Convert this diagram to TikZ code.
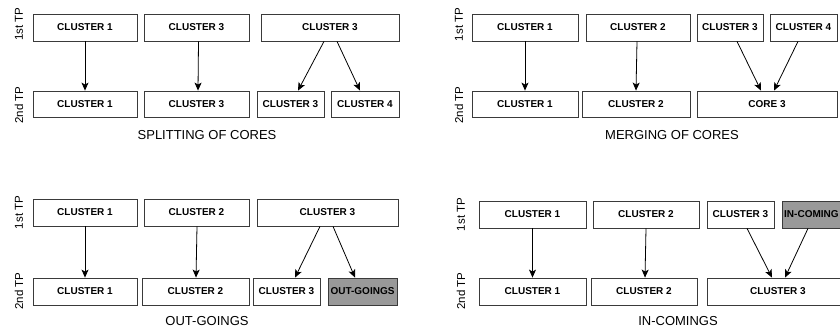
\documentclass[tikz,border=0pt]{standalone}
\usepackage{fontspec}
\setmainfont{Liberation Sans}
\usetikzlibrary{arrows.meta}
\definecolor{boxgray}{HTML}{999999}
\definecolor{edgegray}{HTML}{3A3A3A}
\begin{document}
\begin{tikzpicture}[x=1pt,y=-1pt,
  box/.style={draw=edgegray,line width=0.8pt,rectangle,inner sep=0pt,minimum height=27pt,
    font=\bfseries\fontsize{10}{12}\selectfont,text=black},
  grayfill/.style={fill=boxgray},
  conn/.style={line width=0.8pt,-{Stealth[length=8pt,width=7pt,inset=2pt]}},
  tplabel/.style={rotate=90,font=\fontsize{11.5}{13}\selectfont,inner sep=0pt},
  caption/.style={font=\fontsize{13}{15}\selectfont,inner sep=0pt}]
\useasboundingbox (0,0) rectangle (840,328);
% ---------- Panel 1: splitting ----------
\node[tplabel] (l1a) at (19,24) {1st TP};
\node[tplabel] (l1b) at (19,105) {2nd TP};
\node[box,minimum width=104pt] (a1) at (85,27.5) {CLUSTER 1};
\node[box,minimum width=105pt] (a2) at (196.5,27.5) {CLUSTER 3};
\node[box,minimum width=138pt] (a3) at (330,27.5) {CLUSTER 3};
\node[box,minimum width=104pt,minimum height=26pt] (b1) at (85,104) {CLUSTER 1};
\node[box,minimum width=105pt,minimum height=26pt] (b2) at (196.5,104) {CLUSTER 3};
\node[box,minimum width=67pt,minimum height=26pt] (b3) at (290.5,104) {CLUSTER 3};
\node[box,minimum width=68pt,minimum height=26pt] (b4) at (365,104) {CLUSTER 4};
\draw[conn] (a1.south) -- (b1.north);
\draw[conn] ([xshift=2pt]a2.south) -- ([xshift=1.5pt]b2.north);
\draw[conn] ([xshift=-6pt]a3.south) -- ([xshift=7.5pt]b3.north);
\draw[conn] ([xshift=7pt]a3.south) -- ([xshift=-5pt]b4.north);
\node[caption] (t1) at (207,135.5) {SPLITTING OF CORES};
% ---------- Panel 2: merging ----------
\node[tplabel] (l2a) at (459,24.5) {1st TP};
\node[tplabel] (l2b) at (459,105) {2nd TP};
\node[box,minimum width=106pt] (c1) at (525,27.5) {CLUSTER 1};
\node[box,minimum width=104pt] (c2) at (638,27.5) {CLUSTER 2};
\node[box,minimum width=66pt] (c3) at (730,27.5) {CLUSTER 3};
\node[box,minimum width=67pt] (c4) at (803.5,27.5) {CLUSTER 4};
\node[box,minimum width=106pt,minimum height=26pt] (d1) at (525,104) {CLUSTER 1};
\node[box,minimum width=108pt,minimum height=26pt] (d2) at (636,104) {CLUSTER 2};
\node[box,minimum width=140pt,minimum height=26pt] (d3) at (767,104) {CORE 3};
\draw[conn] (c1.south) -- (d1.north);
\draw[conn] ([xshift=-1pt]c2.south) -- (d2.north);
\draw[conn] ([xshift=7pt]c3.south) -- ([xshift=-6pt]d3.north);
\draw[conn] ([xshift=-5.5pt]c4.south) -- ([xshift=7pt]d3.north);
\node[caption] (t2) at (672,135.5) {MERGING OF CORES};
% ---------- Panel 3: out-goings ----------
\node[tplabel] (l3a) at (19,212.5) {1st TP};
\node[tplabel] (l3b) at (19,291) {2nd TP};
\node[box,minimum width=104pt] (e1) at (85,212.5) {CLUSTER 1};
\node[box,minimum width=105pt] (e2) at (196.5,212.5) {CLUSTER 2};
\node[box,minimum width=141pt] (e3) at (327.5,212.5) {CLUSTER 3};
\node[box,minimum width=104pt] (f1) at (85,291.5) {CLUSTER 1};
\node[box,minimum width=107pt] (f2) at (195.5,291.5) {CLUSTER 2};
\node[box,minimum width=67pt] (f3) at (286.5,291.5) {CLUSTER 3};
\node[box,grayfill,minimum width=69pt] (f4) at (362.5,291.5) {OUT-GOINGS};
\draw[conn] (e1.south) -- (f1.north);
\draw[conn] ([xshift=0.5pt]e2.south) -- ([xshift=0.5pt]f2.north);
\draw[conn] ([xshift=-7.5pt]e3.south) -- ([xshift=8.5pt]f3.north);
\draw[conn] ([xshift=5.5pt]e3.south) -- ([xshift=-7.5pt]f4.north);
\node[caption] (t3) at (207,321) {OUT-GOINGS};
% ---------- Panel 4: in-comings ----------
\node[tplabel] (l4a) at (461,214.5) {1st TP};
\node[tplabel] (l4b) at (461,291) {2nd TP};
\node[box,minimum width=107pt] (g1) at (532.5,214.5) {CLUSTER 1};
\node[box,minimum width=106pt] (g2) at (646,214.5) {CLUSTER 2};
\node[box,minimum width=67pt] (g3) at (740.5,214.5) {CLUSTER 3};
\node[box,grayfill,minimum width=68pt] (g4) at (816,214.5) {};
\node[anchor=west,inner sep=0pt,font=\bfseries\fontsize{10}{12}\selectfont] (g4t) at (784,214.5) {IN-COMING};
\node[box,minimum width=107pt] (h1) at (532.5,291.5) {CLUSTER 1};
\node[box,minimum width=106pt] (h2) at (644,291.5) {CLUSTER 2};
\node[box,minimum width=142pt] (h3) at (778,291.5) {CLUSTER 3};
\draw[conn] (g1.south) -- (h1.north);
\draw[conn] (g2.south) -- ([xshift=1pt]h2.north);
\draw[conn] ([xshift=6.5pt]g3.south) -- ([xshift=-6pt]h3.north);
\draw[conn] ([xshift=-8pt]g4.south) -- ([xshift=7pt]h3.north);
\node[caption] (t4) at (678,321) {IN-COMINGS};
\end{tikzpicture}
\end{document}
